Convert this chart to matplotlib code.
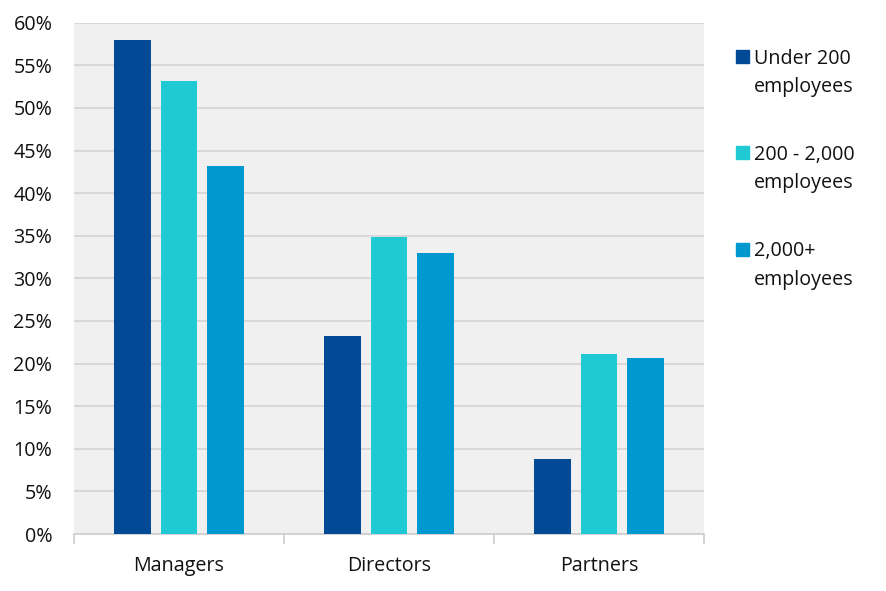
import numpy as np
import matplotlib.pyplot as plt
from matplotlib.patches import Rectangle

plt.rcParams['font.family'] = ['Open Sans', 'DejaVu Sans']

# DATA
categories = ["Managers", "Directors", "Partners"]
series = ["Under 200\nemployees", "200 - 2,000\nemployees", "2,000+\nemployees"]
values = [
    [58.0, 23.2, 8.8],   # Under 200
    [53.1, 34.8, 21.1],  # 200 - 2,000
    [43.2, 33.0, 20.6],  # 2,000+
]
colors = ["#034A96", "#1FCAD5", "#0099CF"]
yticks = list(range(0, 65, 5))

# FIGURE
fig = plt.figure(figsize=(8.86, 5.91), dpi=100)
ax = fig.add_axes([74/886, 57/591, 630/886, 511.3/591])
ax.set_facecolor("#F0F0F0")

x = np.arange(len(categories))
width = 0.176
offset = 0.221
for i, (vals, col) in enumerate(zip(values, colors)):
    ax.bar(x + (i - 1) * offset, vals, width, color=col, zorder=3)

ax.set_xlim(-0.5, 2.5)
ax.set_ylim(0, 60)
ax.set_yticks(yticks)
ax.set_yticklabels([f"{v}%" for v in yticks])
ax.set_xticks(x)
ax.set_xticklabels(categories)
ax.set_xticks(np.arange(-0.5, 3, 1), minor=True)

ax.grid(axis="y", color="#D6D6D6", linewidth=1.3, zorder=0)
for s in ["top", "right", "left"]:
    ax.spines[s].set_visible(False)
ax.spines["bottom"].set_color("#D0D0D0")
ax.spines["bottom"].set_linewidth(1.3)

fs = 14.2
ax.tick_params(axis="both", which="major", length=0, labelsize=fs, colors="#111111")
ax.tick_params(axis="y", pad=15.5)
ax.tick_params(axis="x", which="major", pad=15.5)
ax.tick_params(axis="x", which="minor", length=7, width=1.3, color="#D0D0D0")

# LEGEND (square aligned to first line of label)
leg_y = [56.5, 152.5, 249.5]
for lab, col, yy in zip(series, colors, leg_y):
    fig.patches.append(Rectangle((736/886, (591 - yy - 6.5)/591), 13/886, 13/591,
                                 transform=fig.transFigure, color=col))
    fig.text(754/886, (591 - yy + 8)/591, lab, fontsize=fs, color="#111111",
             va="top", ha="left", linespacing=1.55)

plt.savefig("out.png", dpi=100)
